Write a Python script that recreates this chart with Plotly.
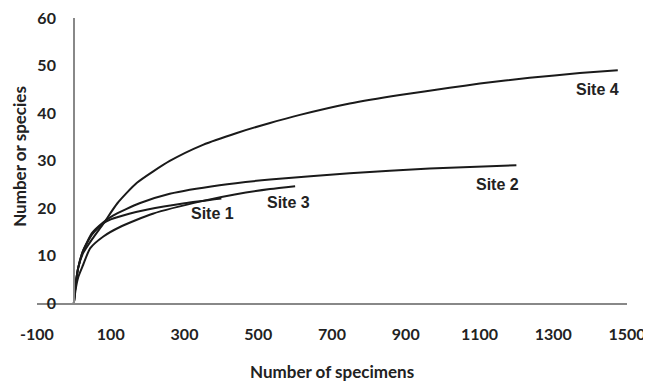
import plotly.graph_objects as go

site1_x = [0, 5, 12, 25, 50, 80, 100, 150, 200, 300, 400]
site1_y = [0, 4, 7.5, 11, 14.5, 16.8, 17.6, 18.8, 19.7, 21, 22]

site2_x = [0, 5, 12, 25, 50, 80, 106, 178, 260, 395, 532, 748, 965, 1200]
site2_y = [0, 4, 7.5, 11, 14.8, 17, 18.4, 21, 23, 24.8, 26, 27.3, 28.3, 29]

site3_x = [0, 5, 12, 25, 44, 80, 125, 214, 350, 440, 532, 600]
site3_y = [0, 3, 5.5, 8, 11.5, 14, 16, 18.8, 21.5, 22.9, 24, 24.6]

site4_x = [0, 5, 12, 25, 50, 80, 118, 171, 260, 350, 442, 532, 613, 748, 884, 1019, 1101, 1236, 1372, 1475]
site4_y = [0, 4, 7.5, 10.5, 13.5, 16.7, 21, 25.3, 29.9, 33.3, 35.8, 37.9, 39.6, 42.0, 43.8, 45.3, 46.2, 47.4, 48.4, 49]

labels = ["Site 1", "Site 2", "Site 3", "Site 4"]
label_x = [377, 1150, 581, 1419]
label_y = [18.8, 24.9, 21.1, 44.9]

x_ticks = [-100, 100, 300, 500, 700, 900, 1100, 1300, 1500]
y_ticks = [0, 10, 20, 30, 40, 50, 60]

fig = go.Figure()
for xs, ys in [(site1_x, site1_y), (site2_x, site2_y), (site3_x, site3_y), (site4_x, site4_y)]:
    fig.add_trace(go.Scatter(x=xs, y=ys, mode="lines",
                             line=dict(color="#1a1a1a", width=2, shape="spline", smoothing=0.6),
                             showlegend=False, hoverinfo="skip"))

for t, lx, ly in zip(labels, label_x, label_y):
    fig.add_annotation(x=lx, y=ly, text="<b>%s</b>" % t, showarrow=False,
                       font=dict(family="Liberation Sans, Arial", size=16, color="#222"))

tickfont = dict(family="Lato", size=16, color="#222", weight="bold")
fig.update_layout(
    width=651, height=385,
    margin=dict(l=29, r=32, t=10, b=90, autoexpand=False),
    plot_bgcolor="white", paper_bgcolor="white",
    xaxis=dict(range=[-100, 1500], tickvals=x_ticks, ticktext=[str(v) for v in x_ticks],
               showgrid=False, zeroline=False, showline=True, linecolor="#888", linewidth=1.5,
               ticks="outside", ticklen=16, tickcolor="rgba(0,0,0,0)", tickfont=tickfont,
               ticklabeloverflow="allow", automargin=False),
    yaxis=dict(range=[0, 60], tickvals=y_ticks, showgrid=False, zeroline=False,
               showline=True, linecolor="#888", linewidth=1.5, anchor="free", position=0.0625,
               ticks="outside", ticklen=14, tickcolor="rgba(0,0,0,0)", tickfont=tickfont,
               ticklabeloverflow="allow", automargin=False),
)
fig.add_annotation(xref="paper", yref="paper", x=0.5, y=-0.24, yanchor="middle",
                   text="<b>Number of specimens</b>", showarrow=False,
                   font=dict(family="Lato", size=17, color="#222"))
fig.add_annotation(xref="paper", yref="paper", x=-0.029, y=0.516, xanchor="center", yanchor="middle",
                   text="<b>Number or species</b>", textangle=-90,
                   showarrow=False, font=dict(family="Lato", size=17, color="#222"))
fig.write_html("out.html")
